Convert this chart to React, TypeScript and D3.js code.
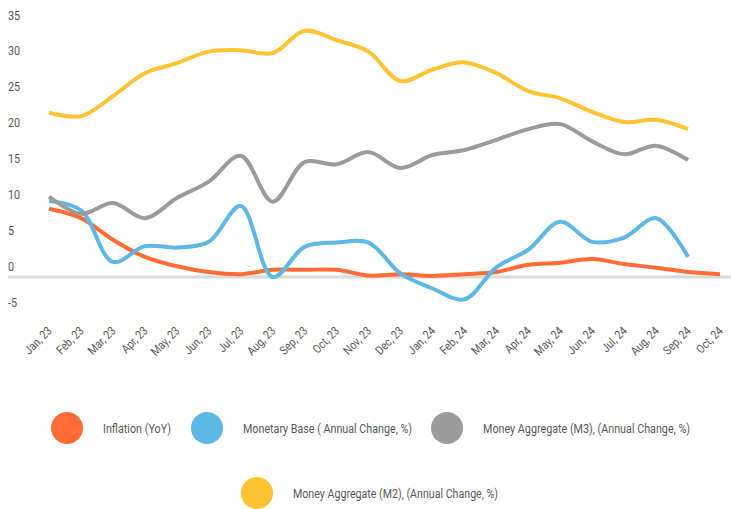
import React from "react";
import * as d3 from "d3";

const months = [
  "Jan, 23", "Feb, 23", "Mar, 23", "Apr, 23", "May, 23", "Jun, 23", "Jul, 23", "Aug, 23",
  "Sep, 23", "Oct, 23", "Nov, 23", "Dec, 23", "Jan, 24", "Feb, 24", "Mar, 24", "Apr, 24",
  "May, 24", "Jun, 24", "Jul, 24", "Aug, 24", "Sep, 24", "Oct, 24",
];

const inflation = [9.5, 8.2, 5.2, 2.8, 1.5, 0.7, 0.4, 1.0, 1.0, 1.0, 0.2, 0.4, 0.15, 0.4, 0.7, 1.7, 2.0, 2.5, 1.8, 1.3, 0.7, 0.4];
const monetaryBase = [10.6, 9.3, 2.1, 4.3, 4.1, 4.9, 9.9, 0.0, 4.2, 4.8, 4.8, 0.5, -1.6, -3.1, 1.35, 3.8, 7.7, 4.9, 5.5, 8.2, 2.8];
const m3 = [11.2, 8.8, 10.3, 8.2, 11.0, 13.3, 16.9, 10.5, 16.0, 15.7, 17.4, 15.2, 17.0, 17.7, 19.1, 20.6, 21.3, 18.9, 17.1, 18.3, 16.3];
const m2 = [22.9, 22.4, 25.2, 28.4, 29.8, 31.4, 31.6, 31.2, 34.3, 33.0, 31.4, 27.3, 28.9, 29.9, 28.4, 25.9, 24.9, 23.0, 21.6, 21.9, 20.6];

const yTicks = [-5, 0, 5, 10, 15, 20, 25, 30, 35];

const seriesNames = [
  "Inflation (YoY)",
  "Monetary Base ( Annual Change, %)",
  "Money Aggregate (M3), (Annual Change, %)",
  "Money Aggregate (M2), (Annual Change, %)",
];
const seriesColors = ["#FF6B35", "#5DB8E6", "#9B9B9B", "#FFC233"];

const W = 731;
const H = 509;
const FONT = "'Liberation Sans Narrow', 'Roboto', 'DejaVu Sans', sans-serif";
const TEXT = "#595959";

export default function App() {
  const x = d3.scalePoint<string>().domain(months).range([49, 720]);
  const y = d3.scaleLinear().domain([-5, 35]).range([312.9, 25.8]);

  const series = [inflation, monetaryBase, m3, m2];
  const line = d3
    .line<number>()
    .x((_, i) => x(months[i]) as number)
    .y((d) => y(d))
    .curve(d3.curveCatmullRom.alpha(0.5));

  const legendRow1 = [
    { cx: 67, cy: 428, tx: 103, w: 68 },
    { cx: 207, cy: 428, tx: 243, w: 169 },
    { cx: 447, cy: 428, tx: 483, w: 207 },
  ];
  const legendRow2 = [{ cx: 257, cy: 493, tx: 293, w: 205 }];
  const legendPos = [...legendRow1, ...legendRow2];

  return (
    <div style={{ position: "fixed", left: 0, top: 0 }}>
      <svg width={W} height={H} style={{ display: "block", background: "#fff" }}>
        {/* y axis labels */}
        {yTicks.map((t) => (
          <text
            key={t}
            transform={`translate(8,${y(t) - 10.4}) scale(0.9,1)`}
            dominantBaseline="central"
            fontFamily={FONT}
            fontSize={12}
            fill={TEXT}
          >
            {t}
          </text>
        ))}
        {/* zero axis line */}
        <line x1={8} x2={W} y1={y(0)} y2={y(0)} stroke="#D9D9D9" strokeWidth={3} />
        {/* x labels */}
        {months.map((m) => (
          <text
            key={m}
            transform={`translate(${(x(m) as number) + 1},329) rotate(-45) scale(0.86,1)`}
            textAnchor="end"
            dominantBaseline="central"
            fontFamily={FONT}
            fontSize={12}
            fill={TEXT}
          >
            {m}
          </text>
        ))}
        {/* lines */}
        {series.map((s, i) => (
          <path
            key={i}
            d={line(s) || ""}
            fill="none"
            stroke={seriesColors[i]}
            strokeWidth={4}
            strokeLinejoin="round"
          />
        ))}
        {/* legend */}
        {seriesNames.map((n, i) => (
          <g key={n}>
            <circle cx={legendPos[i].cx} cy={legendPos[i].cy} r={16} fill={seriesColors[i]} />
            <text
              x={legendPos[i].tx}
              y={legendPos[i].cy}
              dominantBaseline="central"
              fontFamily={FONT}
              fontSize={12.5}
              fill={TEXT}
              textLength={legendPos[i].w}
              lengthAdjust="spacingAndGlyphs"
            >
              {n}
            </text>
          </g>
        ))}
      </svg>
    </div>
  );
}
